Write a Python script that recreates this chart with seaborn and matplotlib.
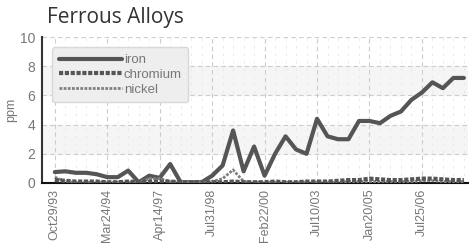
import pandas as pd
import numpy as np
import matplotlib.pyplot as plt
import seaborn as sns

# Sample values (one value per sample, 40 samples)
iron = [0.75, 0.8, 0.7, 0.7, 0.6, 0.4, 0.4, 0.85, 0.05, 0.5,
        0.35, 1.3, 0.05, 0.05, 0.05, 0.5, 1.2, 3.6, 0.8, 2.5,
        0.5, 2.0, 3.2, 2.3, 2.0, 4.4, 3.2, 3.0, 3.0, 4.25,
        4.25, 4.1, 4.6, 4.9, 5.7, 6.2, 6.9, 6.5, 7.2, 7.2]
chromium = [0.2, 0.15, 0.1, 0.1, 0.1, 0.05, 0.05, 0.1, 0.05, 0.1,
            0.1, 0.1, 0.05, 0.05, 0.05, 0.05, 0.05, 0.1, 0.05, 0.05,
            0.05, 0.1, 0.05, 0.05, 0.1, 0.1, 0.1, 0.15, 0.2, 0.2,
            0.3, 0.25, 0.2, 0.2, 0.25, 0.3, 0.3, 0.25, 0.2, 0.2]
nickel = [0.4, 0.1, 0.05, 0.05, 0.05, 0.05, 0.05, 0.05, 0.05, 0.3,
          0.3, 0.1, 0.05, 0.05, 0.05, 0.1, 0.3, 0.9, 0.1, 0.05,
          0.05, 0.05, 0.05, 0.05, 0.05, 0.05, 0.05, 0.05, 0.1, 0.1,
          0.1, 0.1, 0.1, 0.1, 0.1, 0.15, 0.15, 0.1, 0.1, 0.1]
sample_idx = list(range(len(iron)))

tick_pos = [0, 5, 10, 15, 20, 25, 30, 35]
tick_labels = ["Oct29/93", "Mar24/94", "Apr14/97", "Jul31/98",
               "Feb22/00", "Jul10/03", "Jan20/05", "Jul25/06"]

styles = {
    "iron": dict(color="#555555", lw=3.0, ls="-"),
    "chromium": dict(color="#555555", lw=3.0, ls=(0, (1, 0.4))),
    "nickel": dict(color="#808080", lw=2.0, ls=(0, (1, 0.5))),
}

df = pd.DataFrame({"sample": sample_idx * 3,
                   "ppm": iron + chromium + nickel,
                   "metal": ["iron"] * 40 + ["chromium"] * 40 + ["nickel"] * 40})

sns.set_style("white")
plt.rcParams['font.family'] = ['Liberation Sans', 'DejaVu Sans']

fig = plt.figure(figsize=(4.69, 2.44), dpi=100)
ax = fig.add_axes([0.09, 0.25, 0.908, 0.598])

# light alternating bands
for lo, hi in [(2, 4), (6, 8)]:
    ax.axhspan(lo, hi, color="#f5f5f5", zorder=0)

for name in ["nickel", "chromium", "iron"]:
    sub = df[df["metal"] == name]
    st = styles[name]
    sns.lineplot(data=sub, x="sample", y="ppm", ax=ax, color=st["color"],
                 linewidth=st["lw"], linestyle=st["ls"], label=name,
                 zorder=3 if name == "iron" else 4)

ax.set_xlim(-1.2, 39.4)
ax.set_ylim(0, 10)
ax.set_yticks([0, 2, 4, 6, 8, 10])
ax.set_xticks(tick_pos)
ax.set_xticklabels(tick_labels, rotation=90, fontsize=9, color="#777777")
ax.set_xticks(sample_idx, minor=True)
ax.tick_params(axis="y", labelsize=10, labelcolor="#777777", direction="inout",
               length=6, width=1.2, pad=2, color="#333333")
ax.tick_params(axis="x", which="both", length=0, pad=4)

ax.grid(axis="y", which="major", color="#cccccc", linestyle=(0, (4, 3)), linewidth=0.8)
ax.grid(axis="x", which="major", color="#cccccc", linestyle=(0, (4, 3)), linewidth=0.8)
ax.grid(axis="x", which="minor", color="#e6e6e6", linestyle=(0, (3, 6)), linewidth=0.6)

ax.set_xlabel("")
ax.set_ylabel("ppm", fontsize=9, color="#777777", labelpad=2)

for s in ["top", "right"]:
    ax.spines[s].set_visible(False)
ax.spines["left"].set_color("#333333")
ax.spines["left"].set_linewidth(1.5)
ax.spines["bottom"].set_color("#111111")
ax.spines["bottom"].set_linewidth(1.5)

handles, labels = ax.get_legend_handles_labels()
order = [labels.index(n) for n in ["iron", "chromium", "nickel"]]
leg = ax.legend([handles[i] for i in order], [labels[i] for i in order],
                loc="upper left", bbox_to_anchor=(0.024, 0.93), borderaxespad=0,
                fontsize=9.5, handlelength=4.8, handletextpad=0.1,
                labelspacing=0.2, frameon=True, fancybox=True, borderpad=0.5)
leg.get_frame().set_facecolor("#eeeeee")
leg.get_frame().set_edgecolor("#d8d8d8")
leg.get_frame().set_alpha(1.0)
for t in leg.get_texts():
    t.set_color("#777777")

fig.text(0.1, 0.905, "Ferrous Alloys", fontsize=15, color="#333333",
         family=["Open Sans", "DejaVu Sans"])

fig.savefig("out.png", dpi=100)
